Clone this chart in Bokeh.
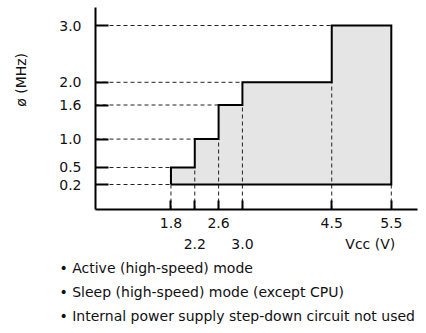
import math
from bokeh.plotting import figure
from bokeh.models import (Range1d, FixedTicker, PrintfTickFormatter,
                          LinearAxis, Title)
from bokeh.embed import file_html
from bokeh.resources import INLINE

# ---- data ----
volts = [1.8, 2.2, 2.6, 3.0, 4.5, 5.5]          # Vcc (V) breakpoints
freqs = [0.5, 1.0, 1.6, 2.0, 3.0]               # max frequency (MHz) in each Vcc interval
f_min = 0.2                                      # minimum operating frequency (MHz)
y_ticks = [0.2, 0.5, 1.0, 1.6, 2.0, 3.0]
x_ticks = [1.8, 2.2, 2.6, 3.0, 4.5, 5.5]
x_second_row = [2.2, 3.0]
x_title = "Vcc  (V)"
y_title = "ø  (MHz)"
notes = [
    "• Active (high-speed) mode",
    "• Sleep (high-speed) mode (except CPU)",
    "• Internal power supply step-down circuit not used",
]

FONT = "DejaVu Sans"
FS = "14px"
TXT = "#111111"

W, H = 426, 333
BL, BR, BT, BB = 95, 9, 7, 124
x0, x1 = 0.533, 5.94
y0, y1 = -0.24, 3.317

p = figure(width=W, height=H,
           x_range=Range1d(x0, x1), y_range=Range1d(y0, y1),
           output_backend="svg", toolbar_location=None,
           min_border_left=BL, min_border_right=BR,
           min_border_top=BT, min_border_bottom=BB)
p.outline_line_color = None
p.xgrid.visible = False
p.ygrid.visible = False
p.background_fill_color = "white"

# helpers: canvas pixel -> data (for placing title texts)
fw, fh = W - BL - BR, H - BT - BB
def xd(px):
    return x0 + (px - BL) * (x1 - x0) / fw
def yd(py):
    return y0 + (H - BB - py) * (y1 - y0) / fh

# step outline
px = [volts[0]]
py = [f_min]
for i, f in enumerate(freqs):
    px += [volts[i], volts[i + 1]]
    py += [f, f]
px += [volts[-1]]
py += [f_min]

p.patch(px, py, fill_color="#e5e5e5", line_color=None)

# dashed guides
hx0, hx1, hy = [x0], [volts[0]], [f_min]
for i, f in enumerate(freqs):
    hx0.append(x0); hx1.append(volts[i]); hy.append(f)
p.segment(x0=hx0, y0=hy, x1=hx1, y1=hy, line_color="#222222",
          line_width=1, line_dash="4 3")

lower = [f_min] + freqs[:-1] + [f_min]
p.segment(x0=volts, y0=[y0] * len(volts), x1=volts, y1=lower,
          line_color="#222222", line_width=1, line_dash="4 3")

p.line(px + [px[0]], py + [py[0]], line_color="black", line_width=2,
       line_join="miter")

def style(ax):
    ax.axis_line_width = 2
    ax.axis_line_color = "black"
    ax.major_tick_line_width = 2
    ax.major_tick_line_color = "black"
    ax.minor_tick_line_color = None
    ax.major_tick_out = 0
    ax.major_label_text_font = FONT
    ax.major_label_text_font_size = FS
    ax.major_label_text_color = TXT
    ax.formatter = PrintfTickFormatter(format="%.1f")

# main axes
style(p.xaxis[0]); style(p.yaxis[0])
p.xaxis[0].ticker = FixedTicker(ticks=x_ticks)
p.xaxis[0].major_tick_in = 9
p.xaxis[0].major_label_standoff = 8
p.xaxis[0].major_label_overrides = {v: "" for v in x_second_row}

p.yaxis[0].ticker = FixedTicker(ticks=y_ticks)
p.yaxis[0].major_tick_in = 13
p.yaxis[0].major_label_standoff = 14

# second row of x labels + Vcc title
vcc_pos = xd(372)
ax2 = LinearAxis(ticker=FixedTicker(ticks=x_second_row + [vcc_pos]))
style(ax2)
ax2.axis_line_color = None
ax2.major_tick_line_color = None
ax2.major_tick_in = 0
ax2.major_label_standoff = 5
ax2.major_label_overrides = {vcc_pos: x_title}
p.add_layout(ax2, "below")

# y title as a rotated label of a bare left axis
ypos = yd(48)
ay2 = LinearAxis(ticker=FixedTicker(ticks=[ypos]))
style(ay2)
ay2.axis_line_color = None
ay2.major_tick_line_color = None
ay2.major_tick_in = 0
ay2.major_label_standoff = 36
ay2.major_label_orientation = math.pi / 2
ay2.major_label_overrides = {ypos: y_title}
p.add_layout(ay2, "left")

# notes below
for t in notes:
    p.add_layout(Title(text=t, align="left", offset=-36, standoff=6,
                       text_font=FONT, text_font_size=FS,
                       text_font_style="normal", text_color=TXT), "below")

open("out.html", "w").write(file_html(p, INLINE))
